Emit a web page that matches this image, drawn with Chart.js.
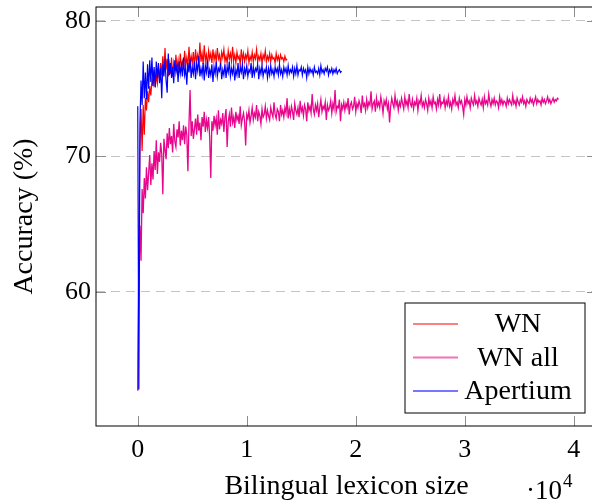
<!DOCTYPE html>
<html><head><meta charset="utf-8">
<script src="https://cdn.jsdelivr.net/npm/chart.js@4.4.0/dist/chart.umd.min.js"></script>
<style>html,body{margin:0;padding:0;overflow:hidden;background:#fff}#wrap{width:600px;height:502px;position:relative}</style>
</head><body><div id="wrap"><canvas id="c" width="600" height="502"></canvas></div>
<script>
// ---- data (lexicon size step per series, accuracy values) ----
const seriesNames = ['WN', 'WN all', 'Apertium'];
const wnStep = 100;
const wnAllStep = 100;
const apertiumStep = 100;
const xTickValues = [0, 10000, 20000, 30000, 40000];
const xTickLabels = ['0', '1', '2', '3', '4'];
const yTickValues = [60, 70, 80];

const wnValues = [
52.8,63.0,70.6,73.5,70.4,73.8,71.6,74.3,73.4,74.8,
74.0,75.2,74.5,75.6,75.3,76.4,75.1,76.0,75.4,76.5,
75.7,76.9,76.0,77.4,76.2,78.0,76.4,77.2,75.9,76.8,
76.1,77.3,75.9,76.9,76.3,77.5,76.5,77.1,76.2,77.6,
76.6,77.0,76.4,77.8,76.7,77.3,76.6,78.1,76.8,77.4,
76.9,77.7,76.6,77.9,77.0,77.5,76.9,78.4,77.0,77.6,
76.8,78.2,77.1,77.5,76.7,77.8,77.2,77.6,76.9,77.9,
77.1,77.6,77.0,78.0,77.2,77.5,76.8,77.7,77.3,77.9,
77.0,77.4,76.9,77.8,77.2,77.6,77.0,78.1,77.1,77.5,
76.9,77.7,77.2,77.4,76.8,77.9,77.1,77.6,77.0,77.5,
77.2,77.8,76.9,77.4,77.1,77.7,77.0,77.5,77.2,77.9,
77.0,77.4,77.1,77.6,76.9,77.5,77.2,77.8,77.0,77.4,
77.1,77.6,77.0,77.5,77.2,77.3,76.9,77.6,77.1,77.4,
77.0,77.5,77.2,77.3,77.0,77.4,77.1,77.2];

const wnAllValues = [
52.7,60.8,64.9,62.3,67.6,65.8,68.4,66.9,69.2,67.5,
68.8,70.1,67.9,69.5,68.3,70.4,69.0,71.2,68.7,70.3,
69.6,71.0,70.2,67.2,71.3,70.5,69.8,71.7,70.6,72.1,
70.9,71.5,70.3,72.4,71.1,70.7,72.0,71.4,72.6,70.8,
71.9,71.2,72.3,70.9,72.2,71.6,68.9,72.4,74.9,71.5,
72.6,71.3,72.0,72.8,71.6,73.1,71.9,72.5,71.2,72.9,
72.2,73.3,71.8,72.7,72.1,72.9,71.4,68.4,72.6,71.9,
73.0,72.3,72.8,71.6,73.4,72.0,72.7,72.4,73.2,71.8,
72.9,73.5,70.7,72.6,73.1,72.2,73.6,72.5,72.9,72.1,
73.3,72.7,73.0,72.4,73.7,72.3,72.8,73.2,72.6,70.8,
73.1,72.8,73.4,72.5,73.0,73.6,72.7,73.2,72.9,73.8,
72.6,73.3,73.0,72.4,73.5,72.9,73.1,73.7,72.8,73.4,
73.0,72.7,73.6,73.2,72.9,74.0,73.1,72.8,73.5,73.3,
72.6,73.8,73.1,73.4,72.9,73.6,73.2,74.3,72.8,73.5,
73.0,73.7,73.3,72.7,73.9,73.4,73.1,73.6,72.9,74.1,
73.3,73.6,73.0,73.8,73.5,72.6,74.0,73.4,73.7,73.2,
74.6,73.5,73.1,73.8,73.4,73.9,72.9,73.6,74.2,73.3,
73.7,73.5,74.0,72.7,73.8,73.4,73.6,74.1,73.2,73.9,
73.5,74.9,73.3,73.7,73.6,74.2,72.6,73.8,73.5,74.0,
73.4,73.9,73.6,74.3,73.1,73.8,74.0,73.5,73.7,74.4,
73.3,73.9,73.6,74.1,73.8,73.2,74.5,73.7,73.9,73.4,
74.2,73.6,74.0,73.8,74.8,73.5,73.9,74.1,73.3,74.3,
73.7,74.0,73.6,74.4,73.9,73.2,74.1,73.8,74.2,73.5,
73.9,72.5,73.7,74.3,73.9,73.6,74.5,73.8,74.1,73.4,
74.0,73.7,74.3,73.9,73.5,74.4,73.8,74.1,73.6,74.6,
73.9,73.7,74.2,73.5,74.0,73.8,74.3,73.4,74.1,73.9,
74.5,73.7,74.0,73.6,74.2,73.9,73.4,74.3,73.8,74.1,
73.6,74.4,73.9,74.0,73.5,74.2,73.8,74.6,73.7,74.0,
73.9,74.3,73.6,74.1,73.8,74.4,73.7,74.0,73.5,74.2,
73.9,74.5,73.8,74.0,73.6,74.3,73.9,74.1,73.7,73.1,
74.2,73.8,74.4,73.9,74.1,73.6,74.3,74.0,73.8,74.5,
73.9,74.1,73.7,74.3,74.0,73.8,74.2,73.6,74.4,73.9,
74.1,73.8,74.6,74.0,73.7,74.2,73.9,74.3,73.8,74.1,
74.0,73.6,74.4,73.9,74.2,73.8,74.1,74.0,73.7,74.3,
73.9,74.2,74.0,73.8,74.5,73.9,74.1,73.7,74.3,74.0,
73.8,74.2,74.0,74.4,73.9,74.1,73.7,74.2,74.0,73.9,
74.3,74.0,74.2,73.8,74.1,74.4,73.9,74.2,74.0,74.1,
73.8,74.3,74.0,74.2,73.9,74.1,74.4,74.0,74.2,73.9,
74.1,74.3,74.0,74.2,74.1,74.3,74.2];

const apertiumValues = [
73.7,52.8,72.4,75.6,73.8,77.0,74.3,76.2,74.2,76.8,
75.0,77.1,75.5,77.3,75.2,76.6,75.1,77.0,75.8,76.9,
75.4,76.5,74.3,76.8,75.9,77.2,75.6,74.7,77.6,76.0,
76.9,75.8,76.6,75.4,77.1,76.2,76.8,75.5,77.0,76.1,
76.7,75.9,77.3,76.0,76.5,75.3,76.9,76.2,77.2,75.8,
76.6,76.1,77.0,75.7,76.8,76.3,77.4,75.9,76.5,76.0,
76.9,75.6,76.7,76.2,77.1,75.8,76.4,76.0,76.8,75.5,
76.6,76.1,77.0,75.9,76.5,76.3,76.9,75.7,76.4,76.0,
76.8,75.8,76.6,76.2,77.0,75.9,76.5,76.1,76.7,75.6,
76.4,76.0,76.9,75.8,76.6,76.2,76.8,75.7,76.5,76.1,
76.7,75.9,76.4,76.2,76.9,75.8,76.6,76.0,76.5,76.3,
76.8,75.7,76.5,76.1,76.7,75.9,76.4,76.2,76.6,75.8,
76.5,76.0,76.7,76.1,76.4,75.9,76.6,76.2,76.5,76.0,
76.8,76.1,76.4,75.9,76.6,76.2,76.5,76.0,76.7,76.1,
76.4,76.2,76.6,75.9,76.5,76.1,76.7,76.0,76.4,76.3,
76.6,76.0,76.5,76.2,76.4,75.8,76.6,76.1,76.5,76.2,
76.4,76.0,76.6,76.2,76.3,76.1,76.5,76.0,76.7,76.2,
76.4,76.1,76.5,76.3,76.6,76.0,76.4,76.2,76.5,76.1,
76.4,76.2,76.5,76.1,76.3,76.4,76.2,76.3];

// ---- rendering ----
const FONT = "'Liberation Serif','Times New Roman',serif";
const COLORS = { wn: '#ff0000', wnAll: '#e8068c', apertium: '#0000ff' };
const toPoints = (vals, step) => vals.map((v, i) => ({ x: i * step, y: v }));
const noPad = (s) => { s.paddingTop = 0; s.paddingBottom = 0; s.paddingLeft = 0; s.paddingRight = 0; };

const decor = {
  id: 'decor',
  afterDraw(chart) {
    const { ctx, chartArea: a, scales } = chart;
    ctx.save();
    // inward tick marks
    ctx.strokeStyle = '#8c8c8c';
    ctx.lineWidth = 1;
    scales.x.ticks.forEach(t => {
      const px = Math.round(scales.x.getPixelForValue(t.value)) + 0.5;
      ctx.beginPath();
      ctx.moveTo(px, a.bottom); ctx.lineTo(px, a.bottom - 10);
      ctx.moveTo(px, a.top); ctx.lineTo(px, a.top + 10);
      ctx.stroke();
    });
    scales.y.ticks.forEach(t => {
      const py = Math.round(scales.y.getPixelForValue(t.value)) + 0.5;
      ctx.beginPath();
      ctx.moveTo(a.left, py); ctx.lineTo(a.left + 10, py);
      ctx.moveTo(a.right, py); ctx.lineTo(a.right - 10, py);
      ctx.stroke();
    });
    // frame
    ctx.strokeStyle = '#000';
    ctx.lineWidth = 1;
    ctx.strokeRect(a.left, a.top, a.right - a.left, a.bottom - a.top);
    // legend
    const lx = 405, ly = 303, lw = 180, lh = 110;
    ctx.fillStyle = '#fff';
    ctx.fillRect(lx, ly, lw, lh);
    ctx.strokeRect(lx, ly, lw, lh);
    const items = [
      { name: seriesNames[0], color: COLORS.wn, w: 1.2, y: 324 },
      { name: seriesNames[1], color: '#f272b8', w: 2.2, y: 357.5 },
      { name: seriesNames[2], color: '#4848ff', w: 1.4, y: 391 }
    ];
    ctx.font = `28px ${FONT}`;
    ctx.textAlign = 'center';
    ctx.textBaseline = 'middle';
    items.forEach(it => {
      ctx.strokeStyle = it.color;
      ctx.lineWidth = it.w;
      ctx.beginPath();
      ctx.moveTo(413, it.y); ctx.lineTo(458, it.y);
      ctx.stroke();
      ctx.fillStyle = '#000';
      ctx.fillText(it.name, 518, it.y + 1);
    });
    // x-axis multiplier
    ctx.textAlign = 'left';
    ctx.textBaseline = 'alphabetic';
    ctx.font = `27px ${FONT}`;
    ctx.fillText('\u00b710', 526, 499);
    const w = ctx.measureText('\u00b710').width;
    ctx.font = `19px ${FONT}`;
    ctx.fillText('4', 526 + w + 1, 487);
    ctx.restore();
  }
};

new Chart(document.getElementById('c'), {
  type: 'line',
  data: {
    datasets: [
      { label: seriesNames[0], data: toPoints(wnValues, wnStep), borderColor: COLORS.wn, borderWidth: 1.2, pointRadius: 0, tension: 0, order: 3 },
      { label: seriesNames[1], data: toPoints(wnAllValues, wnAllStep), borderColor: COLORS.wnAll, borderWidth: 1.3, pointRadius: 0, tension: 0, order: 2 },
      { label: seriesNames[2], data: toPoints(apertiumValues, apertiumStep), borderColor: COLORS.apertium, borderWidth: 1.2, pointRadius: 0, tension: 0, order: 1 }
    ]
  },
  options: {
    responsive: false,
    animation: false,
    events: [],
    layout: { padding: { top: 7, right: 3, left: 0, bottom: 0 } },
    plugins: { legend: { display: false }, tooltip: { enabled: false } },
    scales: {
      x: {
        type: 'linear', min: -3830, max: 42130,
        afterFit(s) { s.height = 76; noPad(s); },
        afterBuildTicks(s) { s.ticks = xTickValues.map(v => ({ value: v })); },
        grid: { display: false },
        border: { display: false },
        ticks: {
          autoSkip: false, maxRotation: 0,
          callback: (v) => xTickLabels[xTickValues.indexOf(v)] ?? '',
          font: { family: FONT, size: 26, lineHeight: 1.2 }, color: '#000', padding: 1
        },
        title: { display: true, text: 'Bilingual lexicon size', color: '#000',
          font: { family: FONT, size: 28, lineHeight: 1 }, padding: { top: 0, bottom: 1 } }
      },
      y: {
        min: 50.1, max: 81.03,
        afterFit(s) { s.width = 96; noPad(s); },
        afterBuildTicks(s) { s.ticks = yTickValues.map(v => ({ value: v })); },
        grid: { color: '#c4c4c4', lineWidth: 1, drawTicks: false },
        border: { display: false, dash: [9, 6] },
        ticks: { font: { family: FONT, size: 26 }, color: '#000', padding: 5 },
        title: { display: true, text: 'Accuracy (%)', color: '#000',
          font: { family: FONT, size: 28, lineHeight: 1 }, padding: { top: 11, bottom: 0 } }
      }
    }
  },
  plugins: [decor]
});
</script>
</body></html>
